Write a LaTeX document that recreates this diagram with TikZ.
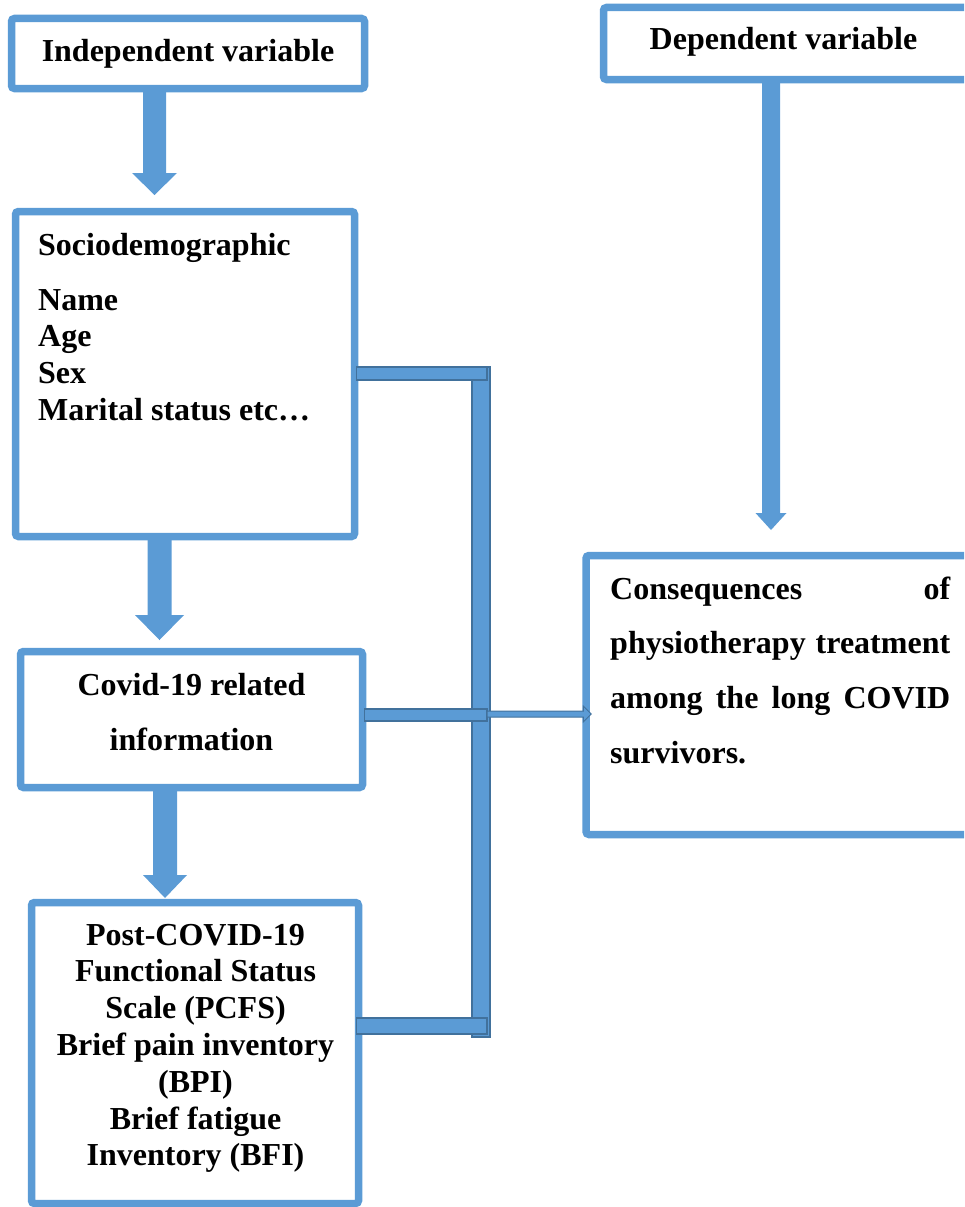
\documentclass[tikz,border=0pt]{standalone}
\usepackage{fontspec}
\setmainfont{Liberation Serif}
\definecolor{boxblue}{HTML}{5B9BD5}
\definecolor{edgeblue}{HTML}{41719C}
\begin{document}
\begin{tikzpicture}[x=1pt,y=-1pt,
  box/.style={draw=boxblue, line width=7.5pt, rounded corners=3pt, fill=white, inner sep=0pt},
  txt/.style={font=\fontsize{32}{36.8}\selectfont\bfseries, inner sep=0pt},
  blk/.style={fill=boxblue, draw=none},
  bar/.style={fill=boxblue, draw=edgeblue, line width=1.5pt}]
\useasboundingbox (0,0) rectangle (964,1207);
\clip (0,0) rectangle (964,1207);

% block arrows (drawn first, boxes overlay their ends)
\fill[blk] (143,88) -- (166,88) -- (166,173) -- (177,173) -- (154.5,195) -- (132,173) -- (143,173) -- cycle;
\fill[blk] (147.5,534) -- (171.5,534) -- (171.5,615) -- (184,615) -- (159.5,640) -- (135,615) -- (147.5,615) -- cycle;
\fill[blk] (153,786) -- (177,786) -- (177,875) -- (187,875) -- (165,898) -- (143,875) -- (153,875) -- cycle;
\fill[blk] (762,79) -- (780,79) -- (780,513) -- (786.5,513) -- (771,530) -- (755.5,513) -- (762,513) -- cycle;

% boxes
\node[box, minimum width=353pt, minimum height=70pt] (indep) at (188,53.5) {};
\node[box, minimum width=370pt, minimum height=72pt] (dep) at (788.5,43.5) {};
\node[box, minimum width=339pt, minimum height=325pt] (socio) at (185,374) {};
\node[box, minimum width=342pt, minimum height=136pt] (covid) at (191.5,719.5) {};
\node[box, minimum width=327pt, minimum height=301pt] (post) at (195,1053) {};
\node[box, minimum width=400pt, minimum height=279pt] (conseq) at (786,695) {};

% texts
\node[txt, anchor=base] (tindep) at (188,62) {Independent variable};
\node[txt, anchor=base] (tdep) at (783.5,50) {Dependent variable};

\node[txt, anchor=base west] (ts0) at (38,255) {Sociodemographic};
\node[txt, anchor=base west] (ts1) at (38,310) {Name};
\node[txt, anchor=base west] (ts2) at (38,346.8) {Age};
\node[txt, anchor=base west] (ts3) at (38,383.6) {Sex};
\node[txt, anchor=base west] (ts4) at (38,420.4) {Marital status etc…};

\node[txt, anchor=base] (tc1) at (191.5,695) {Covid-19 related};
\node[txt, anchor=base] (tc2) at (191.5,750) {information};

\node[txt, anchor=base] (tp1) at (195.5,945) {Post-COVID-19};
\node[txt, anchor=base] (tp2) at (195.5,981.8) {Functional Status};
\node[txt, anchor=base] (tp3) at (195.5,1018.6) {Scale (PCFS)};
\node[txt, anchor=base] (tp4) at (195.5,1055.4) {Brief pain inventory};
\node[txt, anchor=base] (tp5) at (195.5,1092.2) {(BPI)};
\node[txt, anchor=base] (tp6) at (195.5,1129) {Brief fatigue};
\node[txt, anchor=base] (tp7) at (195.5,1165.8) {Inventory (BFI)};

\node[txt, anchor=base west] (tq1) at (610,599) {\makebox[340pt][s]{Consequences\hfill of}};
\node[txt, anchor=base west] (tq2) at (610,653.5) {\makebox[340pt][s]{physiotherapy treatment}};
\node[txt, anchor=base west] (tq3) at (610,708) {\makebox[340pt][s]{among the long COVID}};
\node[txt, anchor=base west] (tq4) at (610,763) {survivors.};

% connector bars
\coordinate (jtop) at (472,367);
\coordinate (jbot) at (490,1037);
\draw[bar] (jtop) rectangle (jbot);
\draw[bar] (socio.east |- 0,367) ++(-2,0) rectangle (487,380);
\draw[bar] (covid.east |- 0,709) ++(-2,0) rectangle (487,721);
\draw[bar] (post.east |- 0,1018) ++(-6,0) rectangle (487,1034);
\coordinate (aend) at ([xshift=1pt]conseq.west |- 0,714);
\draw[bar, line width=1pt] (487,711) -- (aend |- 0,711) -- (aend |- 0,706)
  -- ([xshift=8pt]aend) -- (aend |- 0,722) -- (aend |- 0,717) -- (487,717) -- cycle;
\end{tikzpicture}
\end{document}
